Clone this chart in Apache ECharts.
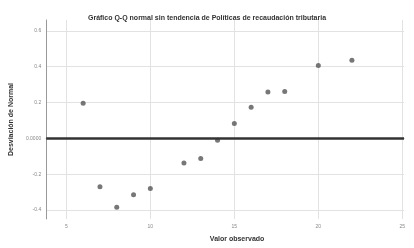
<!DOCTYPE html>
<html>
<head>
<meta charset="utf-8">
<script src="https://cdn.jsdelivr.net/npm/echarts@6/dist/echarts.min.js"></script>
<style>
  html, body { margin: 0; padding: 0; background: #fff; }
  #main { width: 414px; height: 248px; }
</style>
</head>
<body>
<div id="main"></div>
<script>
// valores observados y desviacion de normal
var observed = [6, 7, 8, 9, 10, 12, 13, 14, 15, 16, 17, 18, 20, 22];
var deviation = [0.196, -0.27, -0.385, -0.315, -0.28, -0.137, -0.113, -0.011, 0.083, 0.174, 0.259, 0.261, 0.406, 0.435];
var xTicks = [5, 10, 15, 20, 25];
var yTicks = [-0.4, -0.2, 0, 0.2, 0.4, 0.6];

var points = [];
for (var i = 0; i < observed.length; i++) {
    points.push([observed[i], deviation[i]]);
}

var myChart = echarts.init(document.getElementById('main'));
var option = {
    animation: false,
    title: {
        text: 'Gráfico Q-Q normal sin tendencia de Políticas de recaudación tributaria',
        left: 'center',
        top: 10,
        textStyle: { fontSize: 7, fontWeight: 'bold', color: '#333', fontFamily: 'Liberation Sans' }
    },
    grid: { left: 46, right: 10, top: 20, bottom: 26 },
    xAxis: {
        type: 'value',
        min: 3.8,
        max: 25.1,
        name: 'Valor observado',
        nameLocation: 'middle',
        nameGap: 17,
        nameTextStyle: { fontSize: 7, fontWeight: 'bold', color: '#333', fontFamily: 'Liberation Sans', padding: [0, 0, 0, 24] },
        axisLine: { lineStyle: { color: '#999', width: 1 } },
        axisTick: { show: false, customValues: xTicks },
        axisLabel: { customValues: xTicks, fontSize: 5, color: '#888', margin: 5 },
        splitLine: { show: true, lineStyle: { color: '#e2e2e2', width: 1 } }
    },
    yAxis: {
        type: 'value',
        min: -0.45,
        max: 0.66,
        name: 'Desviación de Normal',
        nameLocation: 'middle',
        nameGap: 28,
        nameTextStyle: { fontSize: 7, fontWeight: 'bold', color: '#333', fontFamily: 'Liberation Sans' },
        axisLine: { show: true, lineStyle: { color: '#999', width: 1 } },
        axisTick: { show: false, customValues: yTicks },
        axisLabel: {
            customValues: yTicks,
            fontSize: 5,
            color: '#888',
            margin: 5,
            formatter: function (v) {
                if (Math.abs(v) < 1e-9) return '0.0000';
                return v.toFixed(1);
            }
        },
        splitLine: { show: true, lineStyle: { color: '#e2e2e2', width: 1 } }
    },
    series: [{
        type: 'scatter',
        data: points,
        symbolSize: 5,
        itemStyle: { color: '#555' },
        markLine: {
            silent: true,
            symbol: 'none',
            label: { show: false },
            lineStyle: { color: '#333', width: 2.5, type: 'solid' },
            data: [{ yAxis: 0 }]
        }
    }]
};
myChart.setOption(option);
</script>
</body>
</html>
